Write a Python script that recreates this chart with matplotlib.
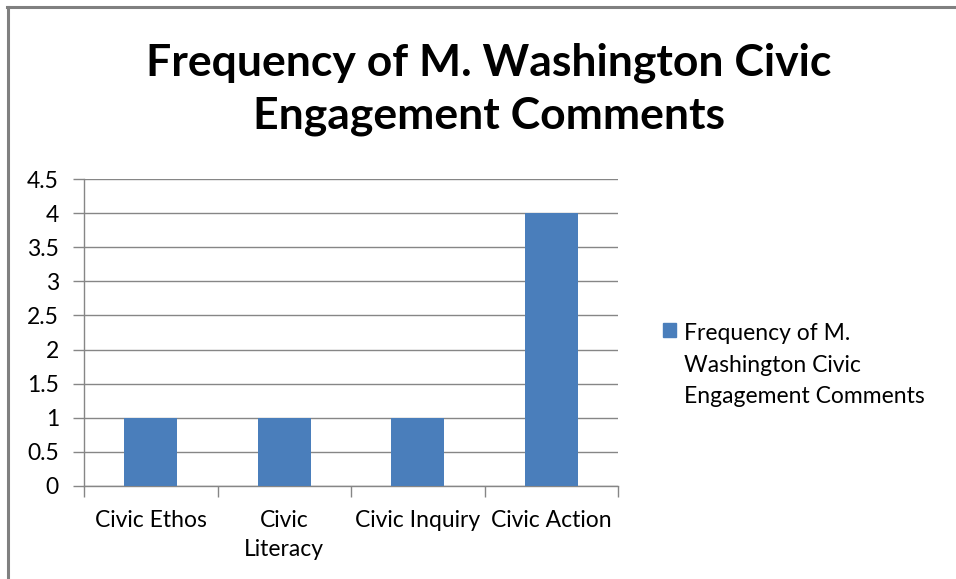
import numpy as np
import matplotlib
matplotlib.use('Agg')
import matplotlib.pyplot as plt
from matplotlib.lines import Line2D

plt.rcParams['font.family'] = ['Lato', 'DejaVu Sans']

categories = ['Civic Ethos', 'Civic\nLiteracy', 'Civic Inquiry', 'Civic Action']
values = [1, 1, 1, 4]
series_name = 'Frequency of M.\nWashington Civic\nEngagement Comments'
title = 'Frequency of M. Washington Civic\nEngagement Comments'

bar_color = '#4a7ebb'
grid_color = '#868686'

fig = plt.figure(figsize=(9.56, 5.79), dpi=100)
ax = fig.add_axes([84/956, 1-486/579, (618-84)/956, (486-179)/579])

x = np.arange(len(categories))
ax.bar(x, values, width=0.4, color=bar_color, zorder=3)

ax.set_xlim(-0.5, len(categories) - 0.5)
ax.set_ylim(0, 4.5)
ax.set_yticks(np.arange(0, 4.51, 0.5))
ax.set_yticklabels(['0', '0.5', '1', '1.5', '2', '2.5', '3', '3.5', '4', '4.5'])
ax.yaxis.grid(True, color=grid_color, linewidth=1, zorder=0)

# category labels centred, ticks at category boundaries
ax.set_xticks(x)
ax.set_xticklabels(categories, linespacing=1.5)
ax.set_xticks(np.arange(-0.5, len(categories)), minor=True)
ax.tick_params(axis='x', which='major', length=0, pad=17, labelsize=16.5, colors='black')
ax.tick_params(axis='x', which='minor', length=8, color=grid_color, width=1)
ax.tick_params(axis='y', length=8, color=grid_color, width=1, labelsize=16.5, pad=10)

for s in ['top', 'right']:
    ax.spines[s].set_visible(False)
for s in ['left', 'bottom']:
    ax.spines[s].set_color(grid_color)
    ax.spines[s].set_linewidth(1)

fig.text(489/956, 1-89/579, title, ha='center', va='center', fontsize=32,
         fontweight='bold', linespacing=1.37)

# legend
fig.patches.append(plt.Rectangle((663/956, 1-337/579), 13/956, 14/579,
                                 transform=fig.transFigure, color=bar_color))
fig.text(684/956, 1-365/579, series_name, ha='left', va='center', fontsize=16.5,
         linespacing=1.6)

# outer frame (top and left visible)
fig.add_artist(Line2D([7/956, 1], [1-7/579, 1-7/579], color='#808080', lw=2.2, transform=fig.transFigure))
fig.add_artist(Line2D([8/956, 8/956], [0, 1-7/579], color='#808080', lw=2.2, transform=fig.transFigure))

fig.savefig('out.png', dpi=100)
